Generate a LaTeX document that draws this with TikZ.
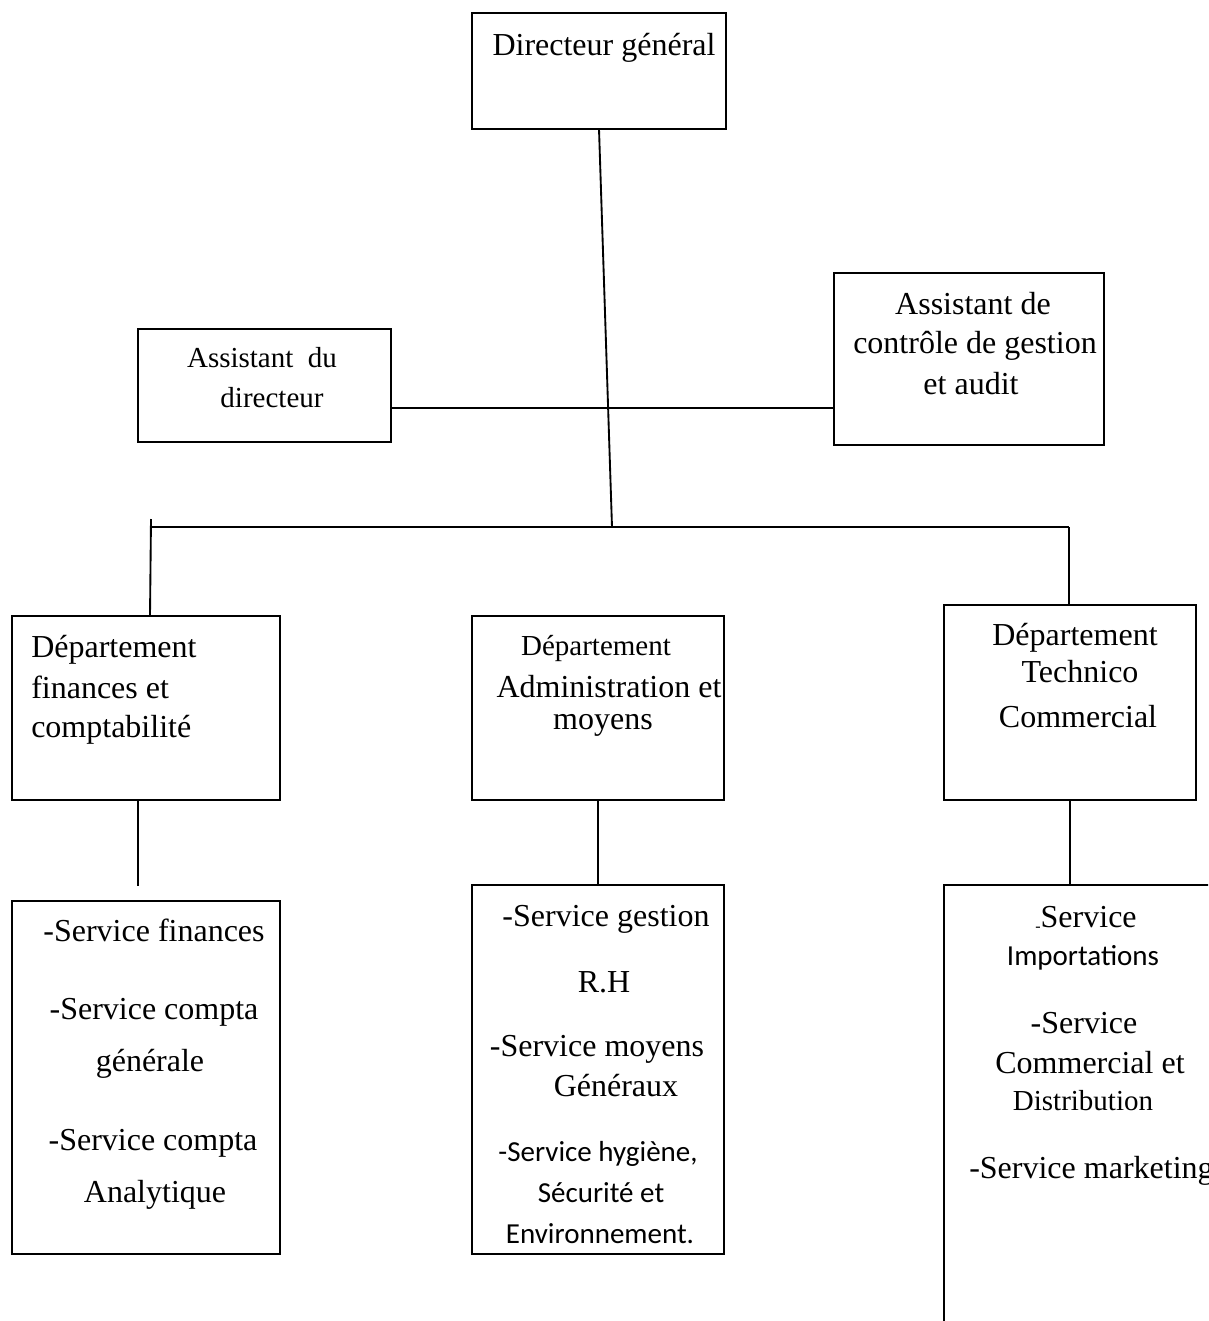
\documentclass[tikz,border=0pt]{standalone}
\usepackage{fontspec}
\setmainfont{Liberation Serif}
\newfontfamily\calibrisub{Carlito}
\usetikzlibrary{fit}
\begin{document}
\begin{tikzpicture}[x=0.75pt,y=-0.75pt,
  box/.style={draw, line width=1.4pt, inner sep=0pt, outer sep=0pt, rectangle},
  link/.style={line width=1.4pt},
  big/.style={anchor=base, inner sep=0pt, font=\fontsize{24}{28}\selectfont},
  small/.style={anchor=base, inner sep=0pt, font=\fontsize{21.75}{26}\selectfont},
  sans/.style={anchor=base, inner sep=0pt, font=\calibrisub\fontsize{21.75}{26}\selectfont},
]
\useasboundingbox (0,0) rectangle (1208,1321);
\fill[white] (0,0) rectangle (1208,1321);
\clip (0,0) rectangle (1208,1321);

% boxes
\node[box, fit={(472,13) (726,129)}] (dg) {};
\node[box, fit={(138,329) (391,442)}] (ad) {};
\node[box, fit={(834,273) (1104,445)}] (acg) {};
\node[box, fit={(12,616) (280,800)}] (df) {};
\node[box, fit={(472,616) (724,800)}] (da) {};
\node[box, fit={(944,605) (1196,800)}] (dt) {};
\node[box, fit={(12,901) (280,1254)}] (sf) {};
\node[box, fit={(472,885) (724,1254)}] (sa) {};
\node[box, fit={(944,885) (1260,1380)}] (st) {};

% junction points
\coordinate (hub) at (612,527);
\coordinate (arm) at (612,408);
\coordinate (busL) at (150,527);
\coordinate (busR) at (1069,527);
\coordinate (tickL) at (151,519);
\coordinate (fEnd) at (138,886);

% connectors
\draw[link] (dg.south) -- (hub);
\draw[link] (ad.east |- arm) -- (acg.west |- arm);
\draw[link] (busL) -- (busR);
\draw[link] (tickL) -- (df.north -| busL);
\draw[link] (busR) -- (dt.north -| busR);
\draw[link] (fEnd |- df.south) -- (fEnd);
\draw[link] (da.south) -- (sa.north);
\draw[link] (dt.south) -- (dt.south |- st.north);

% labels
\node[big] (dgT) at (604,55) {Directeur général};

\node[small] (adT1) at (262,367) {Assistant\ \ du};
\node[small] (adT2) at (272,407) {directeur};

\node[big] (acgT1) at (973,314) {Assistant de};
\node[big] (acgT2) at (975,353) {contrôle de gestion};
\node[big] (acgT3) at (971,394) {et audit};

\node[big, anchor=base west] (dfT1) at (31,657) {Département};
\node[big, anchor=base west] (dfT2) at (31,698) {finances et};
\node[big, anchor=base west] (dfT3) at (31,737) {comptabilité};

\node[small] (daT1) at (596,655) {Département};
\node[big] (daT2) at (609,697) {Administration et};
\node[big] (daT3) at (603,729) {moyens};

\node[big] (dtT1) at (1075,645) {Département};
\node[big] (dtT2) at (1080,682) {Technico};
\node[big] (dtT3) at (1078,727) {Commercial};

\node[big] (sfT1) at (154,941) {-Service finances};
\node[big] (sfT2) at (154,1019) {-Service compta};
\node[big] (sfT3) at (150,1071) {générale};
\node[big] (sfT4) at (153,1150) {-Service compta};
\node[big] (sfT5) at (155,1202) {Analytique};

\node[big] (saT1) at (606,926) {-Service gestion};
\node[big] (saT2) at (604,992) {R.H};
\node[big] (saT3) at (597,1056) {-Service moyens};
\node[big] (saT4) at (616,1096) {Généraux};
\node[sans] (saT5) at (598,1161) {-Service hygiène,};
\node[sans] (saT6) at (601,1202) {Sécurité et};
\node[sans] (saT7) at (600,1243) {Environnement.};

\node[big] (stT1) at (1086,927) {{\fontsize{12}{12}\selectfont\raisebox{-3pt}{-}}Service};
\node[sans] (stT2) at (1083,965) {Importations};
\node[big] (stT3) at (1084,1033) {-Service};
\node[big] (stT4) at (1090,1073) {Commercial et};
\node[small] (stT5) at (1083,1110) {Distribution};
\node[big, anchor=base west] (stT6) at (969,1178) {-Service marketing};
\end{tikzpicture}
\end{document}
